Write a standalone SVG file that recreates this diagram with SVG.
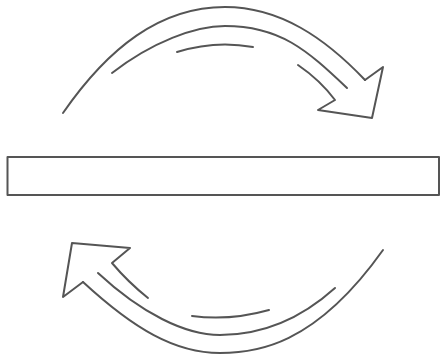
<svg xmlns="http://www.w3.org/2000/svg" width="442" height="358" viewBox="0 0 442 358">
<style>
.ln{fill:none;stroke:#555555;stroke-width:2;stroke-linecap:round;stroke-linejoin:round}
</style>
<rect width="442" height="358" fill="#ffffff"/>
<g id="bar">
<rect class="ln" x="7.5" y="157" width="431.5" height="38"/>
</g>
<g id="connectors">
<g id="arrow-top">
<path class="ln" d="M63,113 C108,48 160,7 225,7 C280,7 325,38 365,80"/>
<path class="ln" d="M112,73 C152,42 195,26 225,26 C280,26 307,50 347,88"/>
<path class="ln" d="M177,52 Q215,40 253,47"/>
<path class="ln" d="M298,65 Q320,80 335,100 L318,110 L372,118 L383,67 L365,80"/>
</g>
<g id="arrow-bottom">
<path class="ln" d="M383,250 C314,347 255,353 220,353 C175,353 134,329 83,282"/>
<path class="ln" d="M335,288 C295,324 255,335 220,335 C185,335 141,313 98,273"/>
<path class="ln" d="M192,316 Q230,321 269,310"/>
<path class="ln" d="M148,298 Q128,282 112,263 L130,248 L72,243 L63,297 L83,282"/>
</g>
</g>
</svg>
